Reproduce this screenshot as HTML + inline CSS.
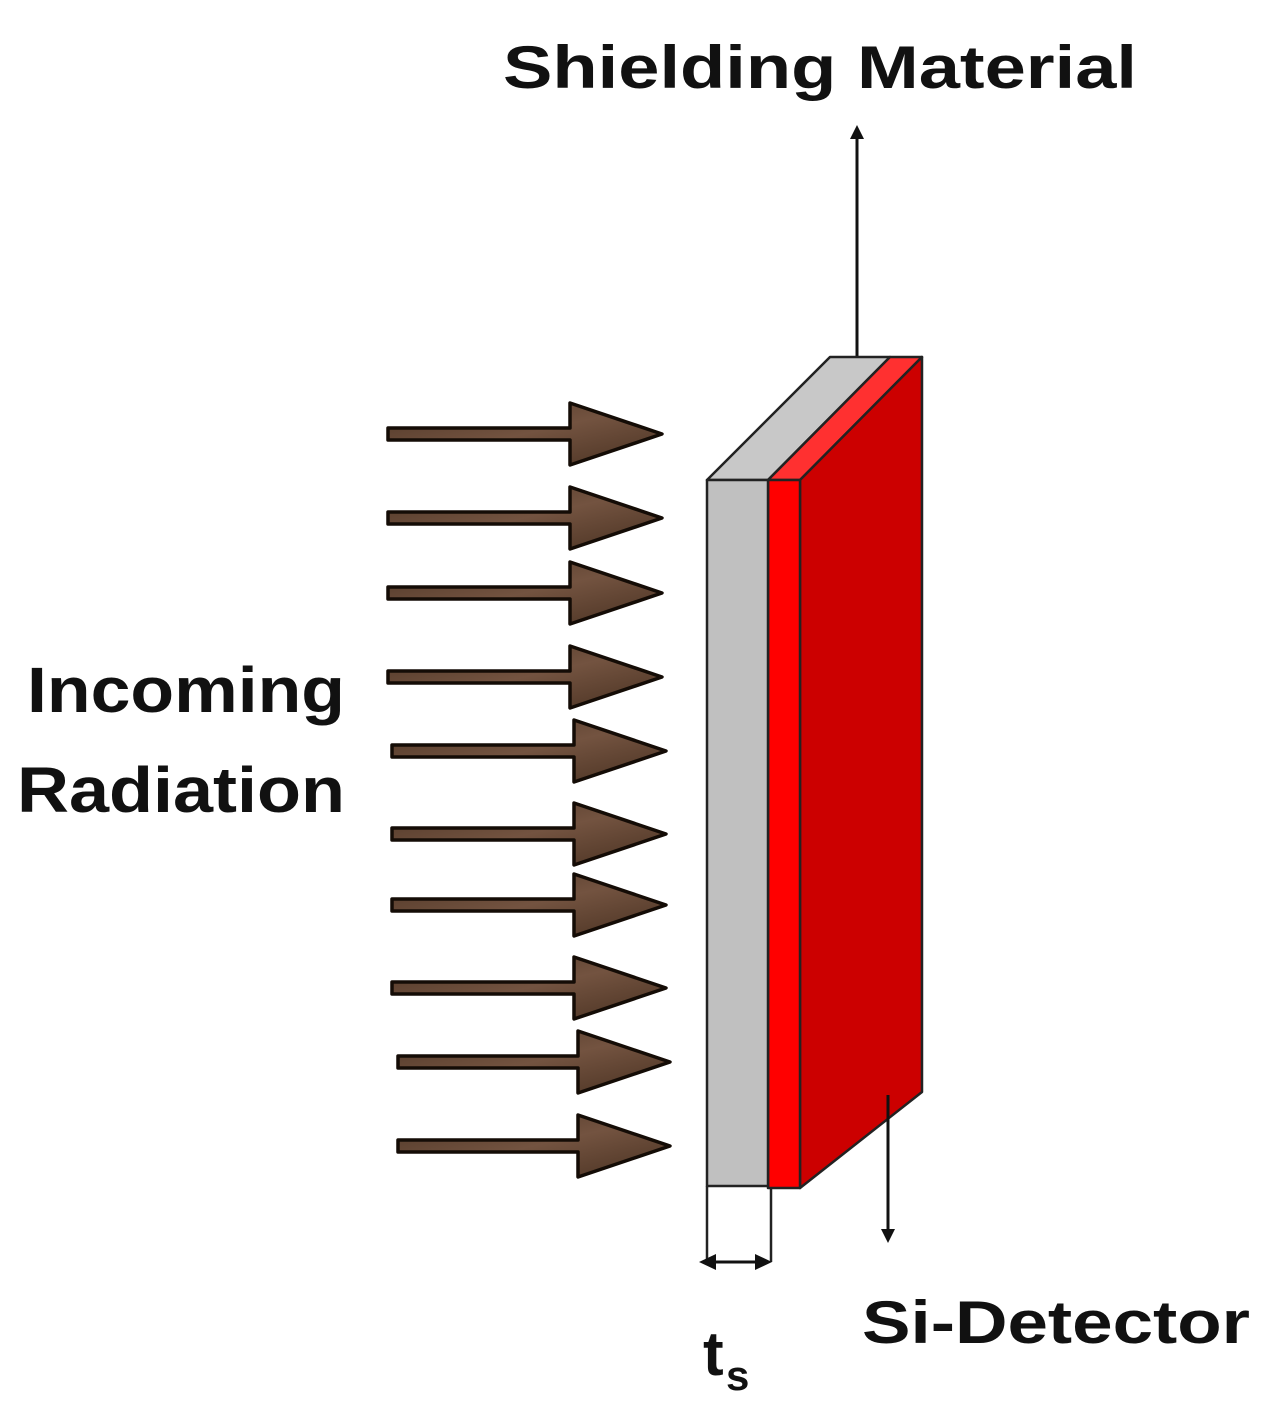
<!DOCTYPE html>
<html><head><style>
body{margin:0;background:#fff;}
svg text{font-family:"Liberation Sans",sans-serif;font-weight:bold;fill:#111;}
</style></head><body>
<svg width="1268" height="1418" viewBox="0 0 1268 1418" xmlns="http://www.w3.org/2000/svg">
<defs>
<linearGradient id="br" x1="0" y1="0" x2="1" y2="1">
<stop offset="0" stop-color="#4e3626"/><stop offset="0.5" stop-color="#735340"/><stop offset="1" stop-color="#4a3222"/>
</linearGradient>
<marker id="ah" markerWidth="14" markerHeight="14" refX="7" refY="7" orient="auto" markerUnits="userSpaceOnUse">
<path d="M0,0 L14,7 L0,14 z" fill="#111"/></marker>
</defs>
<text x="503" y="88" font-size="60" textLength="634" lengthAdjust="spacingAndGlyphs">Shielding Material</text>
<text x="27" y="712" font-size="64" textLength="318" lengthAdjust="spacingAndGlyphs">Incoming</text>
<text x="17" y="812" font-size="64" textLength="328" lengthAdjust="spacingAndGlyphs">Radiation</text>
<text x="862" y="1343" font-size="60" textLength="388" lengthAdjust="spacingAndGlyphs">Si-Detector</text>
<text x="703" y="1375" font-size="62">t</text>
<text x="726" y="1390" font-size="42">s</text>

<g stroke="#140c06" stroke-width="3.5" fill="url(#br)" stroke-linejoin="round">
<path d="M388,428 H570 V403 L662,434 L570,465 V440 H388 Z"/>
<path d="M388,512 H570 V487 L662,518 L570,549 V524 H388 Z"/>
<path d="M388,587 H570 V562 L662,593 L570,624 V599 H388 Z"/>
<path d="M388,671 H570 V646 L662,677 L570,708 V683 H388 Z"/>
<path d="M392,745 H574 V720 L666,751 L574,782 V757 H392 Z"/>
<path d="M392,828 H574 V803 L666,834 L574,865 V840 H392 Z"/>
<path d="M392,899 H574 V874 L666,905 L574,936 V911 H392 Z"/>
<path d="M392,982 H574 V957 L666,988 L574,1019 V994 H392 Z"/>
<path d="M398,1056 H578 V1031 L670,1062 L578,1093 V1068 H398 Z"/>
<path d="M398,1140 H578 V1115 L670,1146 L578,1177 V1152 H398 Z"/>
</g>

<line x1="857" y1="357" x2="857" y2="132" stroke="#111" stroke-width="3" marker-end="url(#ah)"/>
<g stroke="#222" stroke-width="2.5" stroke-linejoin="round">
<polygon points="707,480 768,480 890,357 830,357" fill="#c8c8c8"/>
<polygon points="768,480 800,480 922,357 890,357" fill="#ff3030"/>
<polygon points="800,480 922,357 922,1092 800,1188" fill="#cc0000"/>
<rect x="768" y="480" width="32" height="708" fill="#ff0000"/>
<rect x="707" y="480" width="61" height="706" fill="#c0c0c0"/>
</g>
<line x1="888" y1="1095" x2="888" y2="1236" stroke="#111" stroke-width="3" marker-end="url(#ah)"/>
<g stroke="#222" stroke-width="2.5" fill="none">
<line x1="707" y1="1186" x2="707" y2="1262"/>
<line x1="771" y1="1188" x2="771" y2="1262"/>
</g>
<line x1="712" y1="1262" x2="760" y2="1262" stroke="#111" stroke-width="3"/>
<path d="M699,1262 L716,1254 L716,1270 Z M772,1262 L755,1254 L755,1270 Z" fill="#111"/>
</svg>
</body></html>
